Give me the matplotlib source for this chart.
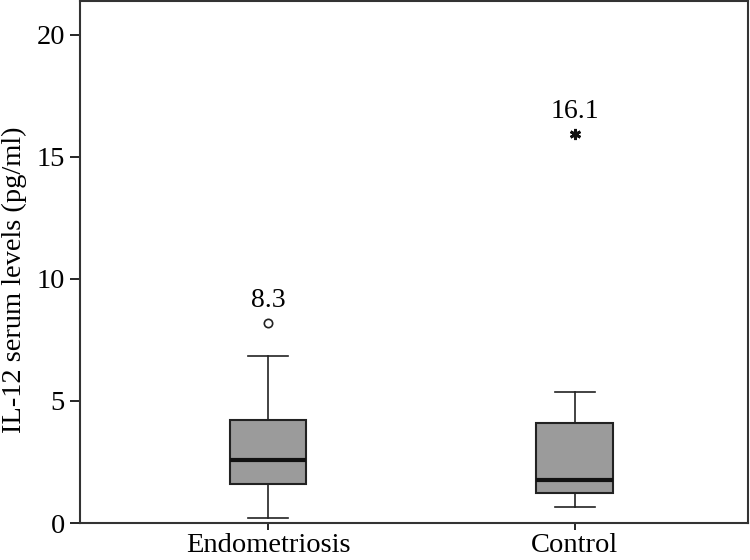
import matplotlib.pyplot as plt

plt.rcParams['font.family'] = ['Liberation Serif', 'DejaVu Serif']

groups = ['Endometriosis', 'Control']
whislo = [0.2, 0.65]
q1 = [1.6, 1.25]
med = [2.6, 1.78]
q3 = [4.22, 4.1]
whishi = [6.83, 5.38]
outliers = [[8.2], [15.95]]
outlier_labels = ['8.3', '16.1']
outlier_markers = ['o', 'ast']

stats = []
for i, name in enumerate(groups):
    stats.append({'label': name, 'whislo': whislo[i], 'q1': q1[i], 'med': med[i],
                  'q3': q3[i], 'whishi': whishi[i], 'fliers': []})

fig = plt.figure(figsize=(7.5, 5.6), dpi=100)
ax = fig.add_axes([0.107, 0.066, 0.89, 0.933])

ax.bxp(stats, positions=[1, 2], widths=0.25, patch_artist=True, showfliers=False,
       boxprops=dict(facecolor='#9b9b9b', edgecolor='#222222', linewidth=1.5),
       medianprops=dict(color='#111111', linewidth=3),
       whiskerprops=dict(color='#222222', linewidth=1.2),
       capprops=dict(color='#222222', linewidth=1.2),
       capwidths=0.13)

# outliers with their value labels
for i, vals in enumerate(outliers):
    pos = i + 1
    for v in vals:
        if outlier_markers[i] == 'o':
            ax.plot(pos, v, 'o', mfc='white', mec='#222222', ms=6, mew=1.2)
        else:
            ax.plot(pos, v, marker=(6, 2, 0), color='#111111', ms=8, mew=2)
        ax.text(pos, v + 0.4, outlier_labels[i], ha='center', va='bottom', fontsize=20)

ax.set_xlim(0.388, 2.564)
ax.set_ylim(0, 21.4)
ax.set_yticks([0, 5, 10, 15, 20])
ax.set_ylabel('IL-12 serum levels (pg/ml)', fontsize=20.5)
ax.yaxis.set_label_coords(-0.08, 0.465)
ax.tick_params(axis='y', labelsize=20.5, length=7.5, width=1.2, direction='out')
ax.tick_params(axis='x', labelsize=20.5, length=5, width=1.2, direction='out', pad=2)
for s in ax.spines.values():
    s.set_linewidth(1.5)
    s.set_color('#333333')

fig.savefig('out.png', dpi=100)
plt.close()
